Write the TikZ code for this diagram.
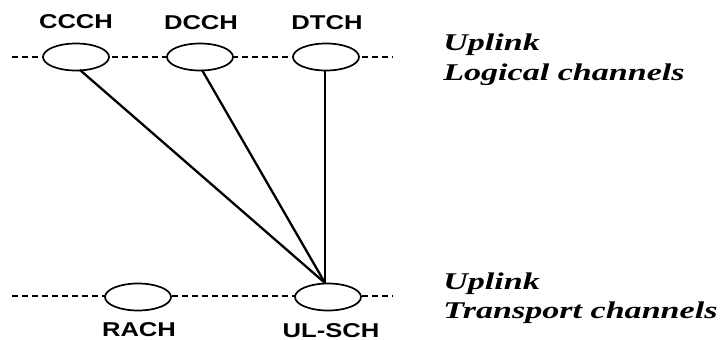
\documentclass[tikz,border=0pt]{standalone}
\usepackage{fontspec}
\usetikzlibrary{shapes.geometric}
\setmainfont{Liberation Serif}
\newfontfamily\labelfont{Liberation Sans}
\begin{document}
\begin{tikzpicture}[x=1pt,y=-1pt,
  chan/.style={draw=black, line width=1.7pt, fill=white, ellipse,
    minimum width=66pt, minimum height=27pt, inner sep=0pt},
  layer/.style={line width=2.2pt, dash pattern=on 6pt off 4pt},
  link/.style={line width=2.3pt},
  chname/.style={font=\labelfont\bfseries\fontsize{20}{24}\selectfont,
    xscale=1.28, anchor=base, inner sep=0pt},
  side/.style={font=\bfseries\itshape\fontsize{24}{28}\selectfont,
    xscale=1.42, anchor=base west, inner sep=0pt}]
\useasboundingbox (0,0) rectangle (723,340);

% channel layers
\coordinate (tl) at (12,57);
\coordinate (tr) at (393,57);
\coordinate (bl) at (12,296);
\coordinate (br) at (393,296);
\draw[layer] (tl) -- (tr);
\draw[layer] (bl) -- (br);

% logical channels
\node[chan] (ccch) at (76,57) {};
\node[chan] (dcch) at (200,57) {};
\node[chan] (dtch) at (326,57) {};
% transport channels
\node[chan] (rach) at (138,297) {};
\node[chan] (ulsch) at (328,297) {};

% channel names
\node[chname] (tccch) at (76,28) {CCCH};
\node[chname] (tdcch) at (201,29) {DCCH};
\node[chname] (tdtch) at (327,29) {DTCH};
\node[chname] (trach) at (139,336) {RACH};
\node[chname] (tulsch) at (331,337) {UL-SCH};

% mapping onto UL-SCH
\coordinate (meet) at (325,283);
\draw[link] (80,70) -- (meet);
\draw[link] (202,70) -- (meet);
\draw[link] (dtch.south -| meet) -- (meet);

% layer captions
\node[side] (up1) at (443,50) {Uplink};
\node[side] (lc) at (443,80) {Logical channels};
\node[side] (up2) at (443,289) {Uplink};
\node[side] (tc) at (443,318) {Transport channels};
\end{tikzpicture}
\end{document}
